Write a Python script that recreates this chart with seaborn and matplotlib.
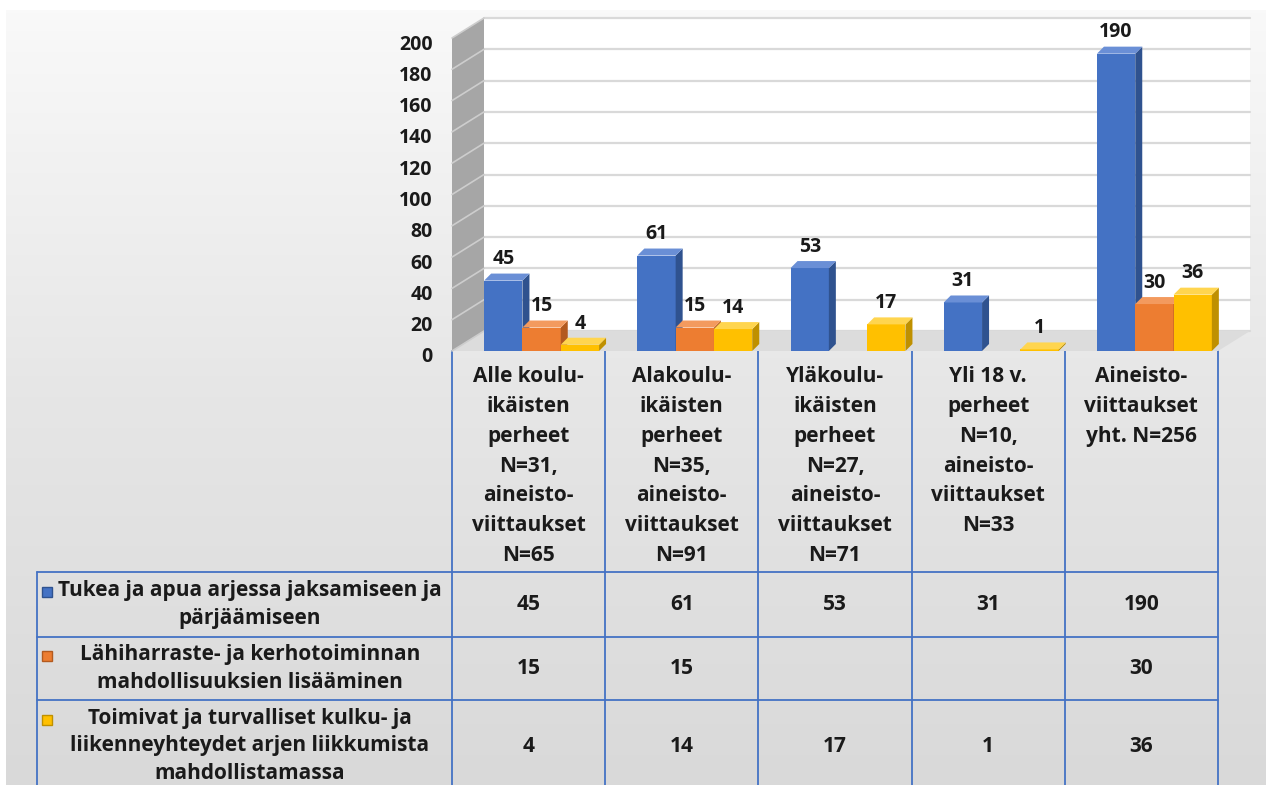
import numpy as np
import pandas as pd
import seaborn as sns
import matplotlib.pyplot as plt
from matplotlib.patches import Polygon, Rectangle
from matplotlib.colors import LinearSegmentedColormap
from matplotlib.transforms import ScaledTranslation

# data
categories = [
    "Alle koulu-\nikäisten\nperheet\nN=31,\naineisto-\nviittaukset\nN=65",
    "Alakoulu-\nikäisten\nperheet\nN=35,\naineisto-\nviittaukset\nN=91",
    "Yläkoulu-\nikäisten\nperheet\nN=27,\naineisto-\nviittaukset\nN=71",
    "Yli 18 v.\nperheet\nN=10,\naineisto-\nviittaukset\nN=33",
    "Aineisto-\nviittaukset\nyht. N=256",
]
series = [
    "Tukea ja apua arjessa jaksamiseen ja\npärjäämiseen",
    "Lähiharraste- ja kerhotoiminnan\nmahdollisuuksien lisääminen",
    "Toimivat ja turvalliset kulku- ja\nliikenneyhteydet arjen liikkumista\nmahdollistamassa",
]
tukea = [45, 61, 53, 31, 190]
harraste = [15, 15, np.nan, np.nan, 30]
liikenne = [4, 14, 17, 1, 36]
y_ticks = [0, 20, 40, 60, 80, 100, 120, 140, 160, 180, 200]

colors = ["#4472C4", "#ED7D31", "#FFC000"]
side_colors = ["#2F528F", "#B35A1F", "#BF9000"]
top_colors = ["#6A8FD6", "#F39A5E", "#FFD54F"]

df = pd.DataFrame({
    "kategoria": categories * 3,
    "sarja": np.repeat(series, len(categories)),
    "arvo": tukea + harraste + liikenne,
}).dropna()

sns.set_style("white")
plt.rcParams["font.family"] = ["Open Sans", "DejaVu Sans"]
plt.rcParams["font.weight"] = "bold"
FS = 15
FS_NUM = 14

W, H = 1266, 785
fig = plt.figure(figsize=(W / 100, H / 100), dpi=100)

# background + table layer in pixel coords
bg = fig.add_axes([0, 0, 1, 1])
grad = LinearSegmentedColormap.from_list("g", ["#F9F9F9", "#E6E6E6", "#D9D9D9"])
bg.imshow(np.linspace(0, 1, 256).reshape(-1, 1), cmap=grad, extent=(6, W, H, 10),
          aspect="auto", zorder=0)
bg.set_xlim(0, W)
bg.set_ylim(H, 0)
bg.axis("off")

# chart axes
x_left, x_right, y_zero, y_top = 452, 1218, 351, 38
ax = fig.add_axes([x_left / W, (H - y_zero) / H, (x_right - x_left) / W, (y_zero - y_top) / H])
sns.barplot(data=df, x="kategoria", y="arvo", hue="sarja", hue_order=series,
            order=categories, palette=colors, saturation=1, width=0.75,
            legend=False, ax=ax)
ax.set_xlim(-0.5, len(categories) - 0.5)
ax.set_ylim(0, 200)
ax.set_facecolor("none")
sns.despine(ax=ax, left=True, bottom=True)
ax.set_xlabel("")
ax.set_ylabel("")

sx = (x_right - x_left) / len(categories)   # px per category
sy = (y_zero - y_top) / 200                  # px per unit

# 3d walls
wx, wy = 32 / sx, 20 / sy
x0, x1 = -0.5, len(categories) - 0.5
ax.add_patch(Rectangle((x0 + wx, wy), x1 - x0, 200, fc="white", ec="none",
                       zorder=0.2, clip_on=False))
ax.add_patch(Polygon([(x0, 0), (x1, 0), (x1 + wx, wy), (x0 + wx, wy)],
                     fc="#DCDCDC", ec="none", zorder=0.3, clip_on=False))
ax.add_patch(Polygon([(x0, 0), (x0 + wx, wy), (x0 + wx, 200 + wy), (x0, 200)],
                     fc="#A6A6A6", ec="none", zorder=0.3, clip_on=False))
for t in y_ticks:
    ax.plot([x0 + wx, x1 + wx], [t + wy, t + wy], color="#D9D9D9", lw=1.6,
            zorder=0.25, clip_on=False)
    ax.plot([x0, x0 + wx], [t, t + wy], color="#CDCDCD", lw=1.2,
            zorder=0.35, clip_on=False)

# 3d bars
shift = 13 / sx
dx, dy = 7 / sx, 7 / sy
for k, cont in enumerate(ax.containers):
    for bar in cont:
        h = bar.get_height()
        if np.isnan(h):
            continue
        bar.set_x(bar.get_x() + shift)
        bar.set_zorder(3 + k)
        bar.set_edgecolor("none")
        b0 = bar.get_x()
        b1 = b0 + bar.get_width()
        ax.add_patch(Polygon([(b1, 0), (b1 + dx, dy), (b1 + dx, h + dy), (b1, h)],
                             fc=side_colors[k], ec="none", zorder=3 + k, clip_on=False))
        ax.add_patch(Polygon([(b0, h), (b1, h), (b1 + dx, h + dy), (b0 + dx, h + dy)],
                             fc=top_colors[k], ec="none", zorder=3 + k, clip_on=False))
        ax.annotate(f"{h:.0f}", ((b0 + b1) / 2, h + dy), xytext=(0, 3),
                    textcoords="offset points", ha="center", va="bottom",
                    fontsize=FS_NUM, fontweight="bold", color="#1A1A1A", zorder=10)

ax.set_yticks(y_ticks)
ax.tick_params(axis="y", length=0, pad=14, labelsize=FS_NUM)
ax.tick_params(axis="x", length=0, pad=11, labelsize=FS)
for lbl in ax.get_xticklabels() + ax.get_yticklabels():
    lbl.set_fontweight("bold")
    lbl.set_color("#1A1A1A")
for lbl in ax.get_xticklabels():
    lbl.set_linespacing(1.55)
# y labels sit a bit below the gridlines in the original
for tick in ax.yaxis.get_major_ticks():
    tick.label1.set_transform(tick.label1.get_transform()
                              + ScaledTranslation(0, -0.04, fig.dpi_scale_trans))

# data table
line_c = "#4472C4"
col_edges = [x_left + i * sx for i in range(len(categories) + 1)]
row_edges = [572, 637, 700, H]
tab_left = 37
for xe in col_edges:
    bg.plot([xe, xe], [y_zero, H], color=line_c, lw=1.3, zorder=2)
bg.plot([tab_left, tab_left], [row_edges[0], H], color=line_c, lw=1.3, zorder=2)
for ye in row_edges[:-1]:
    bg.plot([tab_left, x_right], [ye, ye], color=line_c, lw=1.3, zorder=2)

line_px = 26
values = [tukea, harraste, liikenne]
for r, name in enumerate(series):
    yc = (row_edges[r] + row_edges[r + 1]) / 2
    if r == 2:
        yc = 746
    bg.text(250, yc, name, ha="center", va="center", multialignment="center",
            fontsize=FS, fontweight="bold", linespacing=1.4,
            color="#1A1A1A", zorder=3)
    n = name.count("\n") + 1
    y_first = yc - (n - 1) / 2 * line_px
    bg.add_patch(Rectangle((42, y_first - 5), 10, 10, fc=colors[r],
                           ec=side_colors[r], lw=1, zorder=3))
    for c, v in enumerate(values[r]):
        if np.isnan(v):
            continue
        bg.text((col_edges[c] + col_edges[c + 1]) / 2, yc, f"{v:.0f}", ha="center",
                va="center", fontsize=FS, fontweight="bold", color="#1A1A1A", zorder=3)

fig.savefig("out.png", dpi=100)
